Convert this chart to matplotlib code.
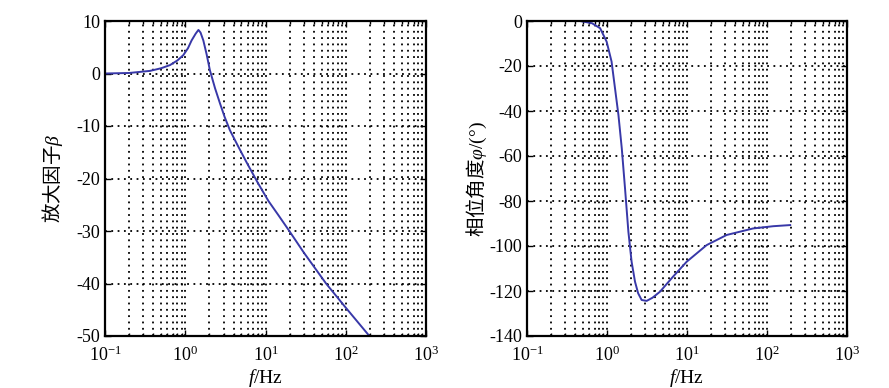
"""Bode-style amplitude and phase curves (two panels), saved to out.png."""

import matplotlib
matplotlib.use("Agg")
import matplotlib.pyplot as plt

plt.rcParams["font.family"] = ["Liberation Serif", "Noto Sans CJK SC"]
plt.rcParams["mathtext.fontset"] = "custom"
plt.rcParams["mathtext.rm"] = "Noto Sans CJK SC"
plt.rcParams["mathtext.it"] = "Liberation Serif:italic"
plt.rcParams["mathtext.bf"] = "Liberation Serif:bold"
plt.rcParams["axes.unicode_minus"] = False
plt.rcParams["font.size"] = 12

# amplitude factor
amp_f = [0.1, 0.2, 0.364, 0.5, 0.645, 0.8, 0.946, 1.08, 1.2, 1.35, 1.46,
         1.55, 1.68, 1.85, 2.03, 2.35, 2.71, 3.1, 3.6, 4.5, 5.8, 8.0,
         10.9, 14.5, 19.8, 30.0, 56.8, 100.0, 197.0]
amp_db = [0.0, 0.1, 0.5, 1.0, 1.6, 2.5, 3.5, 4.8, 6.3, 7.6, 8.3,
          7.8, 6.3, 3.6, 0.6, -2.8, -5.7, -8.3, -10.8, -13.7, -16.9, -20.8,
          -24.3, -27.0, -30.0, -34.1, -40.0, -44.6, -50.0]

# phase angle
ph_f = [0.46, 0.65, 0.82, 0.99, 1.14, 1.26, 1.39, 1.53, 1.68, 1.85,
        2.03, 2.24, 2.45, 2.71, 3.13, 3.7, 4.6, 6.7, 9.9, 17.6, 31.3,
        67.0, 120.0, 195.0]
ph_deg = [0.0, -1.0, -3.2, -9.2, -18.0, -30.0, -41.8, -56.6, -74.4, -93.6,
          -107.0, -115.9, -121.0, -124.0, -124.4, -123.0, -120.3, -113.6,
          -107.0, -99.6, -95.1, -92.2, -91.2, -90.7]

LINE_COLOR = "#3838a8"
GRID_STYLE = dict(color="k", linestyle=(0, (1, 2.5)), linewidth=1.3)


def style_axes(ax):
    ax.set_xscale("log")
    ax.set_xlim(0.1, 1000)
    ax.grid(True, which="major", **GRID_STYLE)
    ax.grid(True, which="minor", axis="x", **GRID_STYLE)
    ax.tick_params(which="both", direction="in", top=True, right=True,
                   labelsize=13, width=1.0)
    ax.tick_params(which="major", length=4)
    ax.tick_params(which="minor", length=2)
    ax.tick_params(axis="x", pad=7)
    for sp in ax.spines.values():
        sp.set_linewidth(1.6)
    ax.set_xlabel("$f$/Hz", fontsize=14, labelpad=1)


fig = plt.figure(figsize=(8.89, 3.88), dpi=100)
ax1 = fig.add_axes([105 / 889, 52 / 388, 321 / 889, 315 / 388])
ax2 = fig.add_axes([527 / 889, 52 / 388, 320 / 889, 315 / 388])

ax1.plot(amp_f, amp_db, color=LINE_COLOR, linewidth=1.4)
style_axes(ax1)
ax1.set_ylim(-50, 10)
ax1.set_yticks(range(-50, 11, 10))
ax1.set_ylabel("$\\mathrm{放大因子}\\beta$", fontsize=14, labelpad=8)

ax2.plot(ph_f, ph_deg, color=LINE_COLOR, linewidth=1.4)
style_axes(ax2)
ax2.set_ylim(-140, 0)
ax2.set_yticks(range(-140, 1, 20))
ax2.set_ylabel("$\\mathrm{相位角度}\\varphi$/(°)", fontsize=14, labelpad=0)

fig.savefig("out.png", dpi=100)
plt.close(fig)
